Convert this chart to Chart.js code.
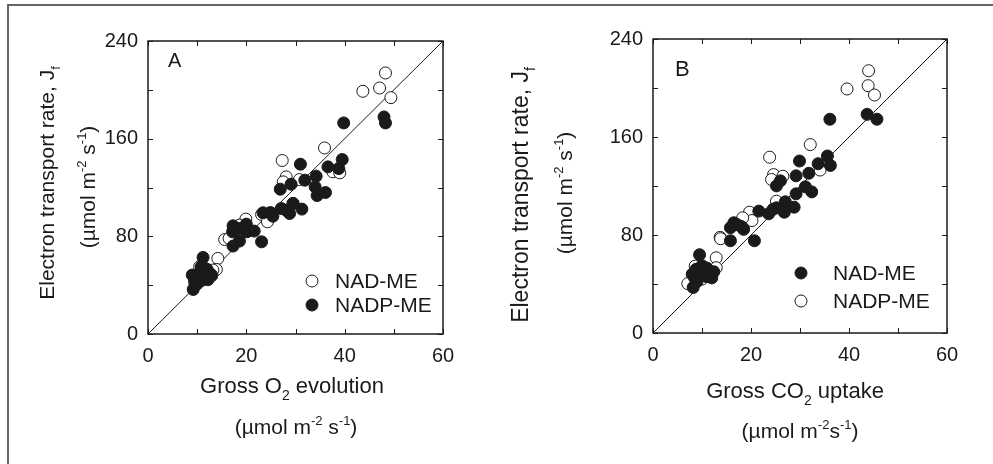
<!DOCTYPE html>
<html>
<head>
<meta charset="utf-8">
<script src="https://cdn.jsdelivr.net/npm/chart.js@4.4.1/dist/chart.umd.min.js"></script>
<style>
  body { margin: 0; background: #fff; }
  #frame {
    position: absolute; left: 7px; top: 4px; width: 1000px; height: 480px;
    border-left: 2px solid #666; border-top: 2px solid #666;
  }
  .panel { position: absolute; top: 0; height: 464px; }
  #boxA { left: 0; width: 496px; }
  #boxB { left: 496px; width: 497px; }
</style>
</head>
<body>
<div id="frame"></div>
<div class="panel" id="boxA"><canvas id="chartA"></canvas></div>
<div class="panel" id="boxB"><canvas id="chartB"></canvas></div>
<script>
// Panel A: J_f vs gross O2 evolution
const aNadX = [48.3, 43.7, 47.1, 49.4, 35.9, 27.3, 28.1, 27.5, 30.8, 37.6, 39.0, 23.1, 24.3, 19.9, 18.6, 15.6, 16.5, 14.2, 13.9, 10.5, 13.2, 12.0, 9.5, 11.5, 29.5];
const aNadY = [213.8, 198.8, 201.5, 193.6, 152.4, 142.1, 128.7, 124.6, 126.5, 132.8, 132.0, 97.9, 91.9, 94.1, 89.2, 77.4, 78.3, 61.9, 52.9, 55.1, 52.4, 50.0, 42.0, 54.0, 107];
const aNadpX = [39.8, 48.0, 48.3, 31.0, 39.5, 36.6, 38.8, 34.2, 31.9, 29.1, 26.9, 34.0, 34.4, 36.1, 27.1, 28.1, 29.5, 28.8, 31.3, 23.4, 24.9, 25.4, 17.3, 17.2, 18.6, 20.0, 20.1, 21.6, 18.6, 17.3, 23.1, 11.2, 9.2, 9.0, 9.5, 10.0, 10.5, 11.0, 11.5, 12.0, 12.5, 11.0, 10.0, 12.0, 13.0, 9.8, 10.8, 12.2];
const aNadpY = [172.9, 177.8, 172.9, 139.1, 142.9, 136.9, 135.5, 129.3, 126.0, 122.7, 118.6, 120.5, 113.4, 115.9, 102.8, 101.4, 106.9, 98.7, 102.3, 99.3, 99.5, 96.5, 88.6, 83.7, 86.4, 90.0, 83.7, 84.3, 76.1, 72.0, 75.5, 62.7, 36.5, 48.3, 44.0, 46.0, 50.0, 52.0, 48.0, 46.0, 50.0, 44.0, 41.0, 53.0, 48.0, 47.0, 55.0, 44.5];

// Panel B: J_f vs gross CO2 uptake
const bNadX = [36.1, 43.7, 45.7, 29.9, 35.6, 36.2, 33.7, 31.8, 29.2, 26.0, 25.2, 31.1, 32.4, 29.2, 27.0, 25.2, 26.8, 28.8, 23.6, 21.6, 16.5, 17.1, 15.8, 18.5, 15.8, 20.7, 9.5, 8.2, 8.0, 8.5, 9.0, 9.5, 10.0, 10.5, 11.0, 11.5, 12.0, 9.0, 10.0, 11.0, 12.4, 8.8, 18.0, 24.5];
const bNadY = [174.5, 178.5, 174.5, 140.4, 144.5, 136.8, 138.2, 130.4, 128.3, 124.2, 120.1, 119.3, 115.2, 113.6, 107.1, 102.2, 98.6, 102.7, 97.3, 99.5, 90.0, 88.6, 86.0, 84.6, 75.3, 75.3, 63.9, 37.2, 48.0, 45.0, 50.0, 47.0, 52.0, 48.0, 46.0, 50.0, 45.0, 42.0, 55.0, 53.0, 50.0, 52.0, 87.0, 101.0];
const bNadpX = [44.0, 39.6, 43.9, 45.2, 32.1, 23.8, 24.6, 24.2, 26.5, 34.1, 25.2, 19.7, 20.2, 18.3, 13.7, 12.9, 12.9, 7.1, 8.6, 10.0, 11.5, 13.8];
const bNadpY = [214.1, 199.2, 201.9, 194.3, 153.8, 143.5, 129.3, 125.3, 128.0, 133.0, 107.6, 98.6, 91.8, 94.0, 78.1, 61.4, 53.3, 40.3, 54.6, 44.0, 47.0, 77.0];

// 1:1 line and axes
const oneToOneX = [0, 60];
const oneToOneY = [0, 240];
const xMin = 0, xMax = 60, xStep = 10, xLabelEvery = 20;
const yMin = 0, yMax = 240, yStep = 40, yLabelEvery = 80;

const FONT = '"Liberation Sans", Arial, Helvetica, sans-serif';
const INK = "#1a1a1a";

function toPoints(xs, ys) {
  return xs.map((x, i) => ({ x: x, y: ys[i] }));
}

function fontStr(size) {
  return size + "px " + FONT;
}

// draws text with sub/superscript pieces, centered on (cx, cy)
function drawRich(ctx, segs, size, cx, cy, angle) {
  ctx.save();
  ctx.translate(cx, cy);
  ctx.rotate(angle || 0);
  ctx.fillStyle = INK;
  ctx.textBaseline = "alphabetic";
  ctx.textAlign = "left";
  const small = Math.round(size * 0.62);
  let total = 0;
  const widths = segs.map((s) => {
    ctx.font = fontStr(s.sub || s.sup ? small : size);
    const w = ctx.measureText(s.t).width;
    total += w;
    return w;
  });
  let x = -total / 2;
  const base = size * 0.36;
  segs.forEach((s, i) => {
    ctx.font = fontStr(s.sub || s.sup ? small : size);
    let y = base;
    if (s.sub) y += size * 0.3;
    if (s.sup) y -= size * 0.42;
    ctx.fillText(s.t, x, y);
    x += widths[i];
  });
  ctx.restore();
}

const framePlugin = {
  id: "frameAndText",
  afterDraw(chart) {
    const cfg = chart.config.options.extra;
    const ctx = chart.ctx;
    const a = chart.chartArea;
    const xs = chart.scales.x;
    const ys = chart.scales.y;
    const tick = 5;

    ctx.save();
    ctx.strokeStyle = INK;
    ctx.lineWidth = 1;
    ctx.beginPath();
    ys.ticks.forEach((t) => {
      const py = Math.round(ys.getPixelForValue(t.value)) + 0.5;
      ctx.moveTo(a.left, py); ctx.lineTo(a.left + tick, py);
      ctx.moveTo(a.right, py); ctx.lineTo(a.right - tick, py);
    });
    xs.ticks.forEach((t) => {
      const px = Math.round(xs.getPixelForValue(t.value)) + 0.5;
      ctx.moveTo(px, a.bottom); ctx.lineTo(px, a.bottom - tick);
      ctx.moveTo(px, a.top); ctx.lineTo(px, a.top + tick);
    });
    ctx.stroke();
    ctx.lineWidth = 1.5;
    ctx.strokeRect(a.left, a.top, a.right - a.left, a.bottom - a.top);

    // panel letter
    ctx.fillStyle = INK;
    ctx.font = fontStr(cfg.letterSize);
    ctx.textBaseline = "middle";
    ctx.textAlign = "left";
    ctx.fillText(cfg.letter, a.left + cfg.letterDx, a.top + cfg.letterDy);

    // legend inside the plot
    cfg.legend.forEach((item, i) => {
      const ds = chart.data.datasets[item.dataset];
      const cx = a.right - cfg.legendDx;
      const cy = a.bottom - cfg.legendDy + i * cfg.legendGap;
      ctx.beginPath();
      ctx.arc(cx, cy, 6, 0, Math.PI * 2);
      ctx.fillStyle = ds.backgroundColor;
      ctx.fill();
      ctx.lineWidth = 1;
      ctx.strokeStyle = ds.borderColor;
      ctx.stroke();
      ctx.fillStyle = INK;
      ctx.font = fontStr(21);
      ctx.textBaseline = "middle";
      ctx.fillText(ds.label, cx + cfg.legendTextDx, cy + 1);
    });
    ctx.restore();

    // axis titles
    cfg.titles.forEach((t) => drawRich(ctx, t.segs, t.size, t.x, t.y, t.angle));
  },
};

function makeChart(id, openPts, filledPts, openLabel, filledLabel, openFirstInLegend, extra) {
  return new Chart(document.getElementById(id), {
    type: "scatter",
    data: {
      datasets: [
        {
          label: "1:1",
          data: toPoints(oneToOneX, oneToOneY),
          showLine: true,
          borderColor: INK,
          borderWidth: 1,
          pointRadius: 0,
          order: 3,
        },
        {
          label: openLabel,
          data: openPts,
          backgroundColor: "#ffffff",
          borderColor: INK,
          borderWidth: 1,
          pointRadius: 6,
          order: 2,
        },
        {
          label: filledLabel,
          data: filledPts,
          backgroundColor: INK,
          borderColor: INK,
          borderWidth: 1,
          pointRadius: 6,
          order: 1,
        },
      ],
    },
    options: {
      responsive: true,
      maintainAspectRatio: false,
      animation: false,
      events: [],
      layout: { padding: extra.padding },
      plugins: { legend: { display: false }, tooltip: { enabled: false } },
      scales: {
        x: {
          type: "linear",
          min: xMin,
          max: xMax,
          grid: { display: false, drawTicks: false },
          border: { display: false },
          ticks: {
            stepSize: xStep,
            padding: 10,
            color: INK,
            font: { family: FONT, size: 20 },
            callback: (v) => (v % xLabelEvery === 0 ? v : ""),
          },
          afterFit: (s) => { s.height = extra.xAxisHeight; },
        },
        y: {
          type: "linear",
          min: yMin,
          max: yMax,
          grid: { display: false, drawTicks: false },
          border: { display: false },
          ticks: {
            stepSize: yStep,
            padding: 10,
            color: INK,
            font: { family: FONT, size: 20 },
            callback: (v) => (v % yLabelEvery === 0 ? v : ""),
          },
          afterFit: (s) => { s.width = extra.yAxisWidth; },
        },
      },
      extra: extra,
    },
    plugins: [framePlugin],
  });
}

const up = -Math.PI / 2;

makeChart("chartA", toPoints(aNadX, aNadY), toPoints(aNadpX, aNadpY), "NAD-ME", "NADP-ME", true, {
  padding: { left: 28, right: 53, top: 41, bottom: 60 },
  yAxisWidth: 120,
  xAxisHeight: 70,
  letter: "A", letterSize: 20, letterDx: 20, letterDy: 20,
  legend: [{ dataset: 1 }, { dataset: 2 }],
  legendDx: 131, legendDy: 53, legendGap: 24, legendTextDx: 23,
  titles: [
    { segs: [{ t: "Gross O" }, { t: "2", sub: true }, { t: " evolution" }], size: 22, x: 292, y: 385 },
    { segs: [{ t: "(µmol m" }, { t: "-2", sup: true }, { t: " s" }, { t: "-1", sup: true }, { t: ")" }], size: 21, x: 296, y: 426 },
    { segs: [{ t: "Electron transport rate, J" }, { t: "f", sub: true }], size: 21, x: 46, y: 183, angle: up },
    { segs: [{ t: "(µmol m" }, { t: "-2", sup: true }, { t: " s" }, { t: "-1", sup: true }, { t: ")" }], size: 21, x: 87, y: 187, angle: up },
  ],
});

makeChart("chartB", toPoints(bNadpX, bNadpY), toPoints(bNadX, bNadY), "NADP-ME", "NAD-ME", false, {
  padding: { left: 37, right: 46, top: 39, bottom: 61 },
  yAxisWidth: 120,
  xAxisHeight: 70,
  letter: "B", letterSize: 22, letterDx: 22, letterDy: 31,
  legend: [{ dataset: 2 }, { dataset: 1 }],
  legendDx: 146, legendDy: 60, legendGap: 28, legendTextDx: 32,
  titles: [
    { segs: [{ t: "Gross CO" }, { t: "2", sub: true }, { t: " uptake" }], size: 22, x: 299, y: 390 },
    { segs: [{ t: "(µmol m" }, { t: "-2", sup: true }, { t: "s" }, { t: "-1", sup: true }, { t: ")" }], size: 21, x: 304, y: 430 },
    { segs: [{ t: "Electron transport rate, J" }, { t: "f", sub: true }], size: 23, x: 24, y: 195, angle: up },
    { segs: [{ t: "(µmol m" }, { t: "-2", sup: true }, { t: " s" }, { t: "-1", sup: true }, { t: ")" }], size: 21, x: 68, y: 193, angle: up },
  ],
});
</script>
</body>
</html>
